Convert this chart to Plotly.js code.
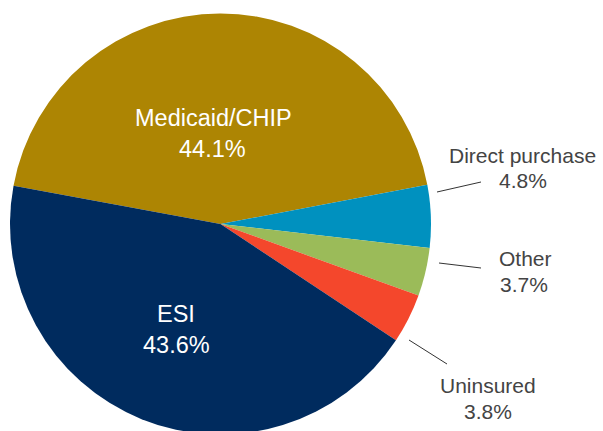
<!DOCTYPE html>
<html>
<head>
<meta charset="utf-8">
<script src="https://cdn.plot.ly/plotly-3.0.1.min.js"></script>
<style>html,body{margin:0;padding:0;overflow:hidden;background:#fff;}</style>
</head>
<body>
<div id="chart" style="width:603px;height:440px;"></div>
<script>
const categories = ["Medicaid/CHIP", "Direct purchase", "Other", "Uninsured", "ESI"];
const shares = [44.1, 4.8, 3.7, 3.8, 43.6];
const colors = ["#AD8503", "#0091BF", "#9BBB59", "#F4472C", "#002B5E"];

const W = 603, H = 440;
const px = x => x / W;
const py = y => 1 - y / H;

// label placements (pixels): name center [x,y], value center [x,y], inside?
const labelPos = [
  [213, 119, 212, 150, true],
  [522, 156, 523, 181, false],
  [525, 259, 524, 285, false],
  [488, 386, 488, 412, false],
  [176, 315, 176, 346, true]
];
const leaders = [null, [437, 192, 481, 182], [439, 263, 481, 268], [409, 340, 447, 364], null];

const annotations = [];
categories.forEach((c, i) => {
  const p = labelPos[i];
  const font = {family: 'Liberation Sans, Arial, sans-serif', size: p[4] ? 23.5 : 21,
                color: p[4] ? '#ffffff' : '#444444'};
  annotations.push({xref: 'paper', yref: 'paper', x: px(p[0]), y: py(p[1] - 1),
    xanchor: 'center', yanchor: 'middle', text: c, showarrow: false, font: font});
  annotations.push({xref: 'paper', yref: 'paper', x: px(p[2]), y: py(p[3] - 1),
    xanchor: 'center', yanchor: 'middle', text: shares[i].toFixed(1) + '%', showarrow: false, font: font});
});

const shapes = leaders.filter(l => l).map(l => ({
  type: 'line', xref: 'paper', yref: 'paper',
  x0: px(l[0]), y0: py(l[1]), x1: px(l[2]), y1: py(l[3]),
  line: {color: '#333333', width: 1}
}));

const trace = {
  type: 'pie',
  labels: categories,
  values: shares,
  marker: {colors: colors, line: {width: 0}},
  sort: false,
  direction: 'clockwise',
  rotation: -79.5,
  textinfo: 'none',
  hoverinfo: 'label+percent',
  showlegend: false,
  domain: {x: [10 / W, 431 / W], y: [1 - 434.5 / H, 1 - 13.5 / H]}
};

Plotly.newPlot('chart', [trace], {
  width: W, height: H,
  margin: {l: 0, r: 0, t: 0, b: 0},
  paper_bgcolor: '#ffffff',
  showlegend: false,
  annotations: annotations,
  shapes: shapes
}, {displayModeBar: false, staticPlot: true});
</script>
</body>
</html>
